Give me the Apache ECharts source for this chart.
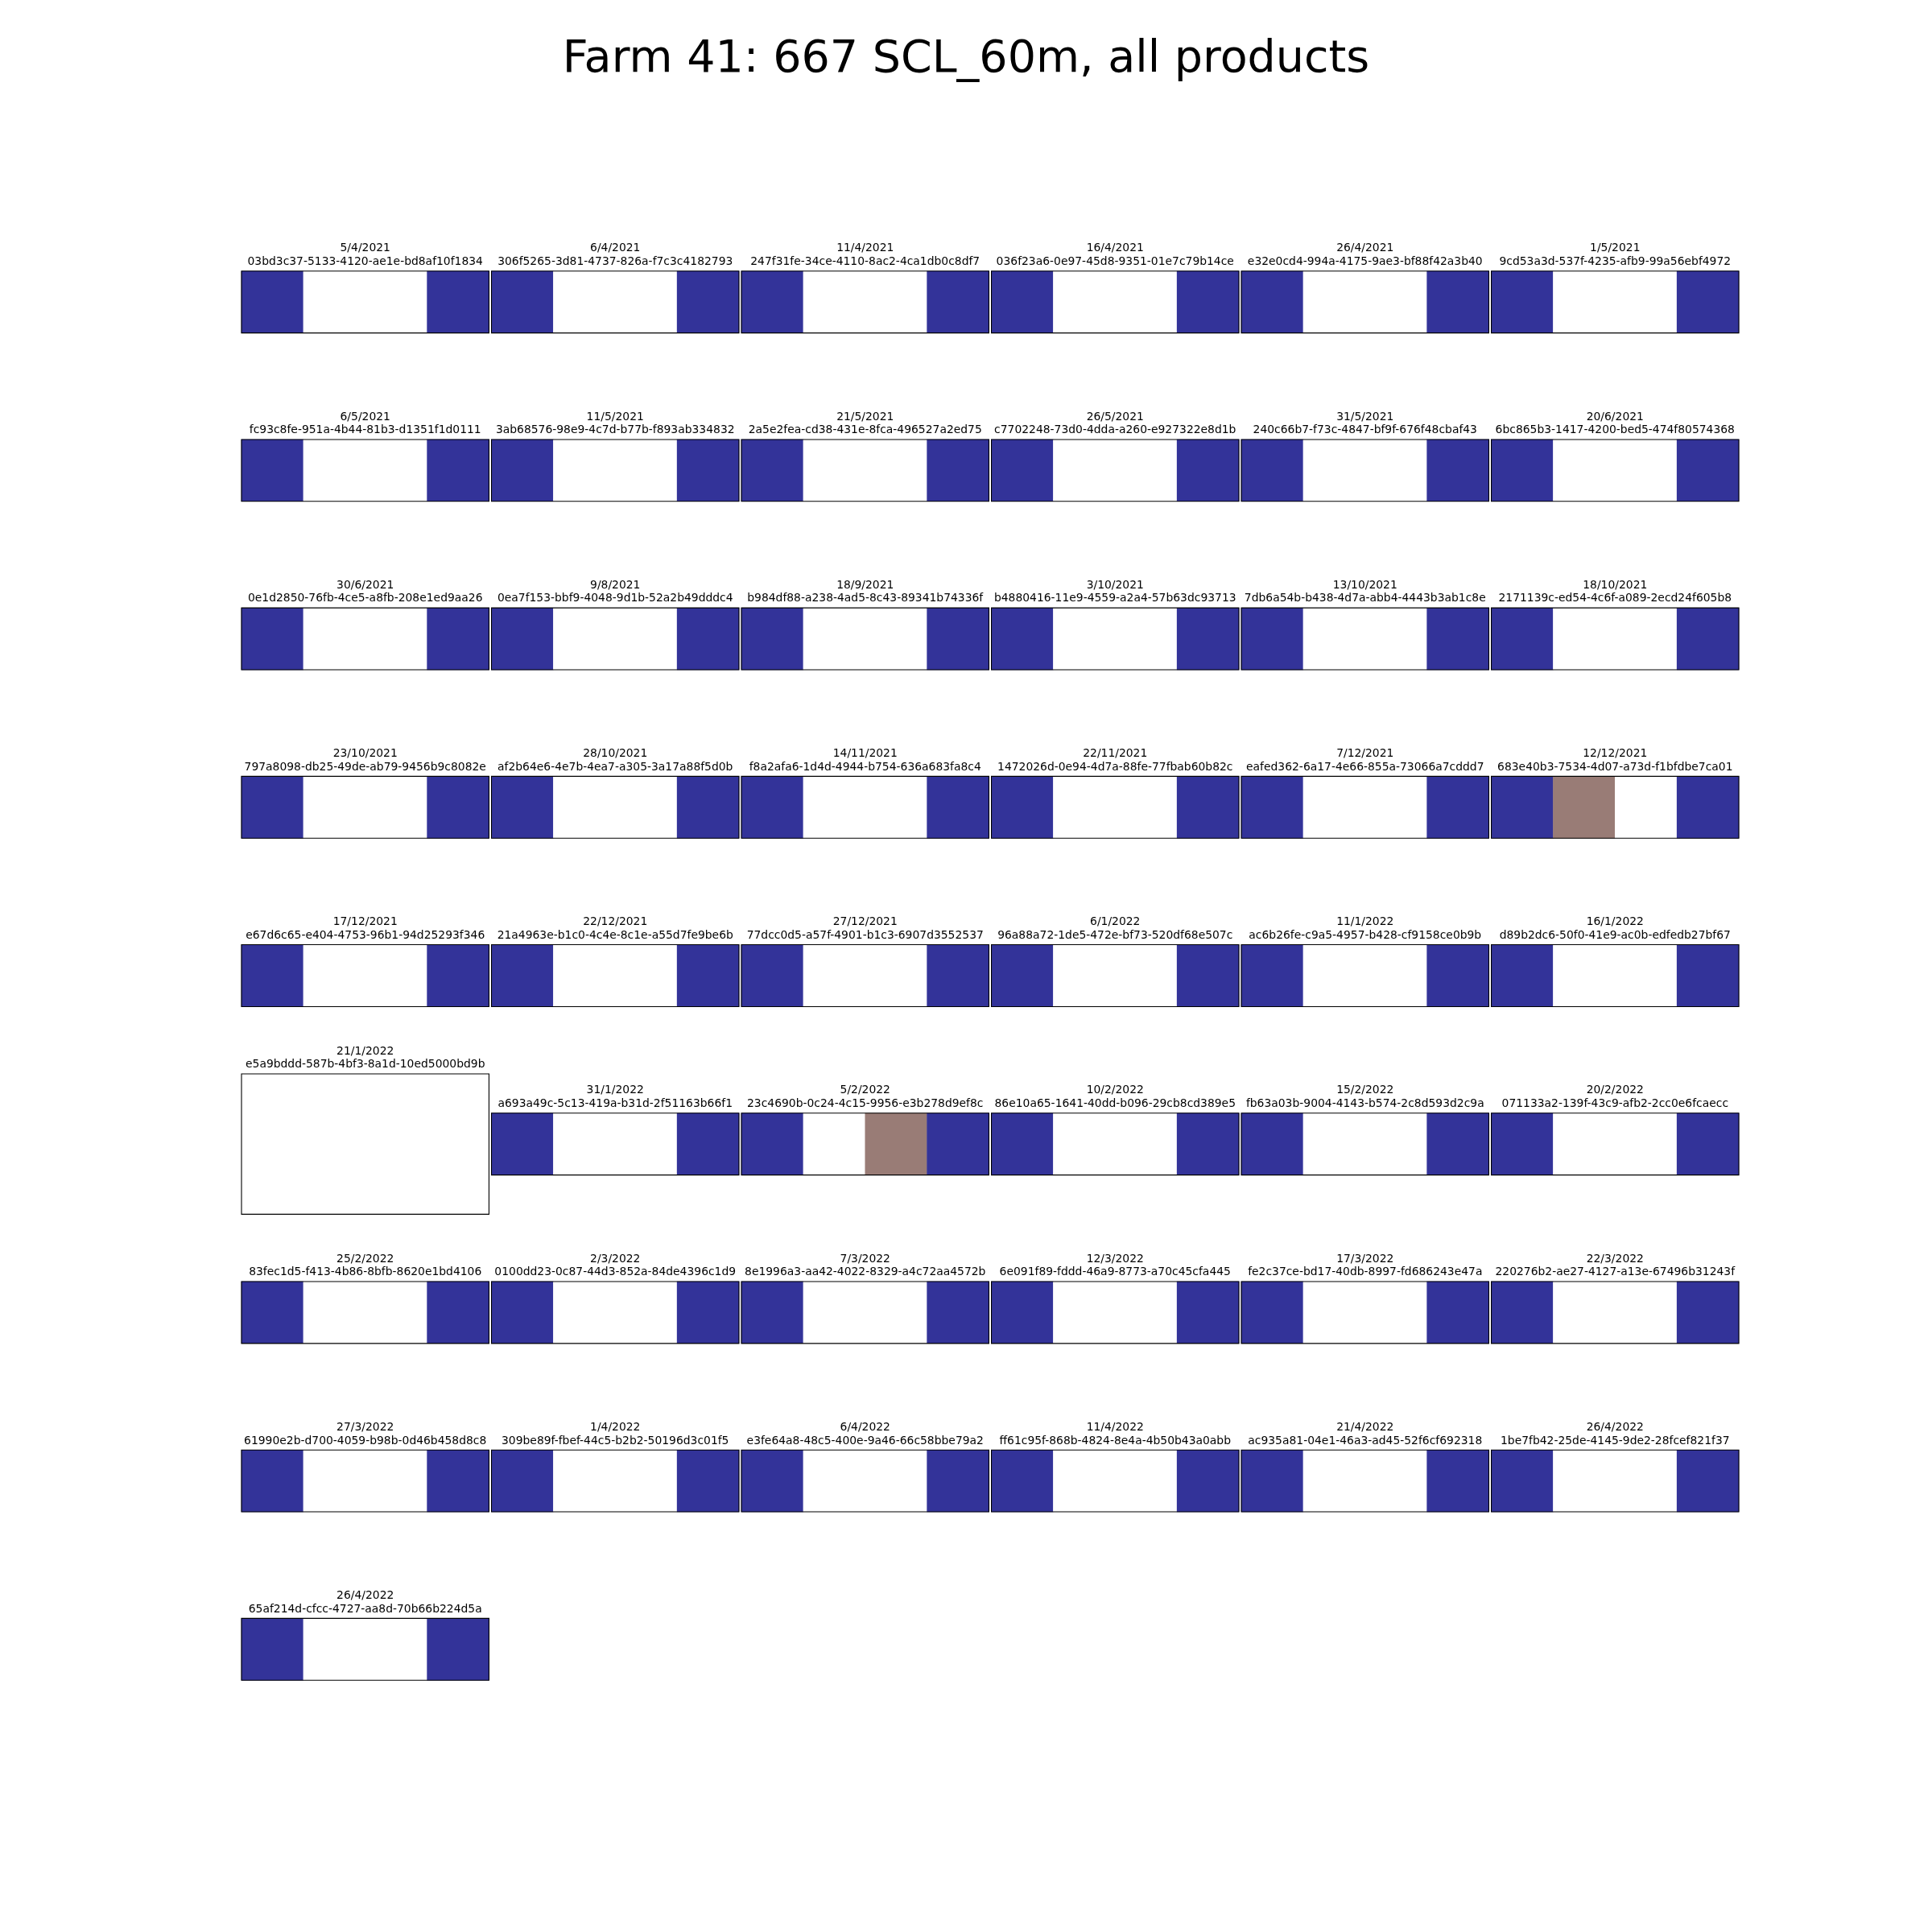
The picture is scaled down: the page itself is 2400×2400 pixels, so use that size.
<!DOCTYPE html>
<html><head><meta charset="utf-8">
<script src="https://cdn.jsdelivr.net/npm/echarts@6/dist/echarts.min.js"></script>
<style>html,body{margin:0;padding:0;background:#fff}#c{width:2400px;height:2400px}</style>
</head><body><div id="c"></div>
<script>
const chartTitle = 'Farm 41: 667 SCL_60m, all products';
const dates = [
 '5/4/2021','6/4/2021','11/4/2021','16/4/2021','26/4/2021','1/5/2021',
 '6/5/2021','11/5/2021','21/5/2021','26/5/2021','31/5/2021','20/6/2021',
 '30/6/2021','9/8/2021','18/9/2021','3/10/2021','13/10/2021','18/10/2021',
 '23/10/2021','28/10/2021','14/11/2021','22/11/2021','7/12/2021','12/12/2021',
 '17/12/2021','22/12/2021','27/12/2021','6/1/2022','11/1/2022','16/1/2022',
 '21/1/2022','31/1/2022','5/2/2022','10/2/2022','15/2/2022','20/2/2022',
 '25/2/2022','2/3/2022','7/3/2022','12/3/2022','17/3/2022','22/3/2022',
 '27/3/2022','1/4/2022','6/4/2022','11/4/2022','21/4/2022','26/4/2022',
 '26/4/2022'
];
const productIds = [
 '03bd3c37-5133-4120-ae1e-bd8af10f1834','306f5265-3d81-4737-826a-f7c3c4182793','247f31fe-34ce-4110-8ac2-4ca1db0c8df7',
 '036f23a6-0e97-45d8-9351-01e7c79b14ce','e32e0cd4-994a-4175-9ae3-bf88f42a3b40','9cd53a3d-537f-4235-afb9-99a56ebf4972',
 'fc93c8fe-951a-4b44-81b3-d1351f1d0111','3ab68576-98e9-4c7d-b77b-f893ab334832','2a5e2fea-cd38-431e-8fca-496527a2ed75',
 'c7702248-73d0-4dda-a260-e927322e8d1b','240c66b7-f73c-4847-bf9f-676f48cbaf43','6bc865b3-1417-4200-bed5-474f80574368',
 '0e1d2850-76fb-4ce5-a8fb-208e1ed9aa26','0ea7f153-bbf9-4048-9d1b-52a2b49dddc4','b984df88-a238-4ad5-8c43-89341b74336f',
 'b4880416-11e9-4559-a2a4-57b63dc93713','7db6a54b-b438-4d7a-abb4-4443b3ab1c8e','2171139c-ed54-4c6f-a089-2ecd24f605b8',
 '797a8098-db25-49de-ab79-9456b9c8082e','af2b64e6-4e7b-4ea7-a305-3a17a88f5d0b','f8a2afa6-1d4d-4944-b754-636a683fa8c4',
 '1472026d-0e94-4d7a-88fe-77fbab60b82c','eafed362-6a17-4e66-855a-73066a7cddd7','683e40b3-7534-4d07-a73d-f1bfdbe7ca01',
 'e67d6c65-e404-4753-96b1-94d25293f346','21a4963e-b1c0-4c4e-8c1e-a55d7fe9be6b','77dcc0d5-a57f-4901-b1c3-6907d3552537',
 '96a88a72-1de5-472e-bf73-520df68e507c','ac6b26fe-c9a5-4957-b428-cf9158ce0b9b','d89b2dc6-50f0-41e9-ac0b-edfedb27bf67',
 'e5a9bddd-587b-4bf3-8a1d-10ed5000bd9b','a693a49c-5c13-419a-b31d-2f51163b66f1','23c4690b-0c24-4c15-9956-e3b278d9ef8c',
 '86e10a65-1641-40dd-b096-29cb8cd389e5','fb63a03b-9004-4143-b574-2c8d593d2c9a','071133a2-139f-43c9-afb2-2cc0e6fcaecc',
 '83fec1d5-f413-4b86-8bfb-8620e1bd4106','0100dd23-0c87-44d3-852a-84de4396c1d9','8e1996a3-aa42-4022-8329-a4c72aa4572b',
 '6e091f89-fddd-46a9-8773-a70c45cfa445','fe2c37ce-bd17-40db-8997-fd686243e47a','220276b2-ae27-4127-a13e-67496b31243f',
 '61990e2b-d700-4059-b98b-0d46b458d8c8','309be89f-fbef-44c5-b2b2-50196d3c01f5','e3fe64a8-48c5-400e-9a46-66c58bbe79a2',
 'ff61c95f-868b-4824-8e4a-4b50b43a0abb','ac935a81-04e1-46a3-ad45-52f6cf692318','1be7fb42-25de-4145-9de2-28fcef821f37',
 '65af214d-cfcc-4727-aa8d-70b66b224d5a'
];
// SCL class per pixel (left to right); empty = no pixels drawn
const cellClasses = [
 [0,10,10,0],[0,10,10,0],[0,10,10,0],[0,10,10,0],[0,10,10,0],[0,10,10,0],
 [0,10,10,0],[0,10,10,0],[0,10,10,0],[0,10,10,0],[0,10,10,0],[0,10,10,0],
 [0,10,10,0],[0,10,10,0],[0,10,10,0],[0,10,10,0],[0,10,10,0],[0,10,10,0],
 [0,10,10,0],[0,10,10,0],[0,10,10,0],[0,10,10,0],[0,10,10,0],[0,8,10,0],
 [0,10,10,0],[0,10,10,0],[0,10,10,0],[0,10,10,0],[0,10,10,0],[0,10,10,0],
 [],[0,10,10,0],[0,10,8,0],[0,10,10,0],[0,10,10,0],[0,10,10,0],
 [0,10,10,0],[0,10,10,0],[0,10,10,0],[0,10,10,0],[0,10,10,0],[0,10,10,0],
 [0,10,10,0],[0,10,10,0],[0,10,10,0],[0,10,10,0],[0,10,10,0],[0,10,10,0],
 [0,10,10,0]
];
const pixelCols = ['0','1','2','3'];
const classValues = [0, 8, 10];
const classColors = ['#333399', '#997c76', '#ffffff'];

// layout
const L0 = 300, R0 = 2160, T0 = 288, B0 = 2136, NC = 6, NR = 9, WS = 0.01, HS = 0.2;
const W = (R0 - L0) / (NC + (NC - 1) * WS);
const H = (B0 - T0) / (NR + (NR - 1) * HS);
const FONT = 'DejaVu Sans';

const grids = [], xAxes = [], yAxes = [], series = [];
const titles = [{
  text: chartTitle, left: 1200, top: 47, textAlign: 'center', padding: 0,
  textStyle: { fontSize: 55.5, fontWeight: 'normal', color: '#000', fontFamily: FONT }
}];
dates.forEach((d, i) => {
  const r = Math.floor(i / NC), c = i % NC;
  const bl = L0 + c * W * (1 + WS);
  const bt = T0 + r * H * (1 + HS);
  const cells = cellClasses[i];
  const ih = cells.length ? W / pixelCols.length : H;
  const it = bt + (H - ih) / 2;
  grids.push({ left: bl, top: it, width: W, height: ih, show: true, borderColor: '#000',
    borderWidth: 1.1, backgroundColor: 'transparent', z: 10 });
  xAxes.push({ type: 'category', gridIndex: i, data: pixelCols, show: false });
  yAxes.push({ type: 'category', gridIndex: i, data: ['0'], show: false });
  series.push({ type: 'heatmap', xAxisIndex: i, yAxisIndex: i,
    data: cells.map((v, k) => [k, 0, v]),
    itemStyle: { borderWidth: 0 }, emphasis: { disabled: true }, progressive: 0 });
  titles.push({ text: d + '\n' + productIds[i], left: bl + W / 2, top: it - 3,
    textAlign: 'center', textVerticalAlign: 'bottom', padding: 0,
    textStyle: { fontSize: 13.9, lineHeight: 16.6, fontWeight: 'normal', color: '#000', fontFamily: FONT } });
});

const chart = echarts.init(document.getElementById('c'), null, { renderer: 'canvas' });
chart.setOption({
  animation: false,
  backgroundColor: '#fff',
  title: titles,
  grid: grids,
  xAxis: xAxes,
  yAxis: yAxes,
  visualMap: {
    type: 'piecewise', show: false,
    pieces: classValues.map((v, k) => ({ value: v, color: classColors[k] }))
  },
  series: series
});
</script></body></html>
